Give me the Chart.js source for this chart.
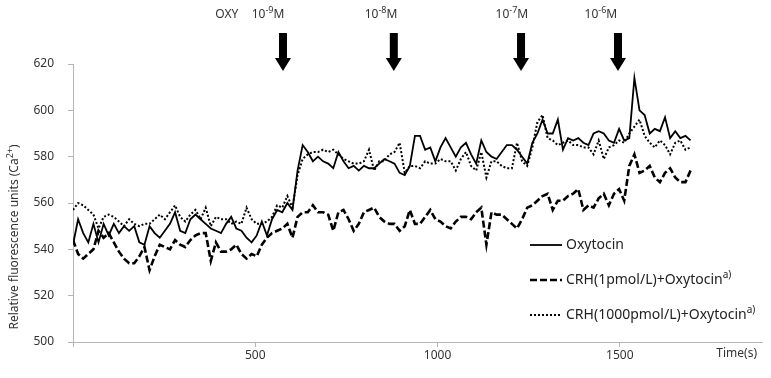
<!DOCTYPE html>
<html>
<head>
<meta charset="utf-8">
<script src="https://cdn.jsdelivr.net/npm/chart.js@4.4.0/dist/chart.umd.min.js"></script>
<style>
  html, body { margin: 0; padding: 0; background: #fff; }
  #wrap { width: 771px; height: 378px; }
</style>
</head>
<body>
<div id="wrap"><canvas id="fluoChart" width="771" height="378"></canvas></div>
<script>
// sampling times (s)
const times = [
  0, 14, 28, 42, 56, 70, 84, 98, 112, 126, 140, 154, 168, 182, 196, 210, 224, 238, 252, 266,
  280, 294, 308, 322, 336, 350, 364, 378, 392, 406, 420, 434, 448, 462, 476, 490, 504, 518, 532, 546,
  560, 574, 588, 602, 616, 630, 644, 658, 672, 686, 700, 714, 728, 742, 756, 770, 784, 798, 812, 826,
  840, 854, 868, 882, 896, 910, 924, 938, 952, 966, 980, 994, 1008, 1022, 1036, 1050, 1064, 1078, 1092, 1106,
  1120, 1134, 1148, 1162, 1176, 1190, 1204, 1218, 1232, 1246, 1260, 1274, 1288, 1302, 1316, 1330, 1344, 1358, 1372, 1386,
  1400, 1414, 1428, 1442, 1456, 1470, 1484, 1498, 1512, 1526, 1540, 1554, 1568, 1582, 1596, 1610, 1624, 1638, 1652, 1666,
  1680, 1694
];

const oxytocin = [
  542, 553, 547, 543, 551, 543, 551, 546, 551, 547,
  550, 548, 550, 543, 542, 550, 547, 545, 548, 551,
  556, 548, 547, 553, 555, 553, 551, 549, 548, 547,
  551, 554, 549, 548, 545, 543, 546, 552, 546, 553,
  557, 556, 560, 557, 574, 585, 582, 578, 580, 578,
  577, 575, 582, 578, 575, 576, 574, 576, 575, 575,
  577, 579, 578, 577, 573, 572, 576, 589, 589, 583,
  584, 578, 584, 588, 584, 580, 584, 586, 581, 577,
  587, 582, 580, 579, 582, 585, 585, 583, 580, 577,
  586, 590, 596, 590, 590, 596, 583, 588, 587, 588,
  586, 585, 590, 591, 590, 587, 586, 592, 587, 588,
  614, 600, 598, 590, 592, 591, 597, 588, 591, 588,
  589, 587
];

const crh1 = [
  544, 538, 536, 538, 540, 548, 545, 547, 543, 539,
  536, 534, 534, 537, 541, 531, 537, 542, 541, 540,
  544, 542, 541, 544, 546, 547, 547, 535, 543, 539,
  539, 540, 542, 538, 536, 538, 537, 542, 545, 547,
  548, 549, 551, 545, 554, 556, 556, 559, 556, 556,
  555, 548, 556, 557, 553, 548, 551, 556, 557, 558,
  554, 552, 551, 551, 548, 550, 557, 551, 551, 554,
  557, 553, 552, 550, 549, 552, 554, 554, 553, 556,
  558, 542, 556, 555, 555, 553, 551, 549, 553, 558,
  559, 561, 563, 564, 557, 561, 561, 563, 564, 566,
  557, 559, 558, 562, 564, 559, 564, 566, 561, 576,
  581, 573, 574, 576, 571, 569, 573, 575, 571, 569,
  569, 574
];

const crh1000 = [
  557, 560, 559, 557, 555, 549, 554, 555, 554, 552,
  550, 553, 551, 550, 551, 551, 553, 555, 553, 556,
  559, 554, 552, 555, 557, 553, 558, 550, 554, 553,
  553, 551, 552, 551, 558, 553, 551, 551, 552, 554,
  559, 558, 563, 558, 572, 579, 581, 582, 582, 583,
  582, 583, 581, 579, 578, 577, 577, 578, 583, 574,
  578, 578, 581, 582, 586, 573, 576, 576, 575, 578,
  577, 577, 579, 578, 578, 574, 579, 582, 576, 574,
  582, 571, 578, 578, 576, 575, 575, 586, 578, 576,
  584, 595, 598, 588, 587, 585, 586, 587, 585, 585,
  584, 584, 581, 587, 579, 584, 585, 587, 586, 590,
  593, 596, 589, 586, 584, 587, 585, 581, 586, 587,
  583, 584
];

const seriesNames = ['Oxytocin', 'CRH(1pmol/L)+Oxytocin', 'CRH(1000pmol/L)+Oxytocin'];
const xTickValues = [0, 500, 1000, 1500];

// dose additions (arrows) and their labels
const doseTimes = [576, 880, 1229, 1495];
const doseLabelTimes = [535, 845, 1204, 1448];
const doseExponents = ['-9', '-8', '-7', '-6'];
const oxyLabelTime = 422;

const FONT = '"Noto Sans", sans-serif';
const TEXT = '#333';

function toPoints(vals) {
  return vals.map((v, i) => ({ x: times[i], y: v }));
}

// draw text with optional superscript parts: [[text, isSup], ...]
function richText(ctx, parts, x, y, align, size) {
  const sup = Math.round(size * 0.72);
  let w = 0;
  parts.forEach(p => {
    ctx.font = (p[1] ? sup : size) + 'px ' + FONT;
    w += ctx.measureText(p[0]).width;
  });
  let cx = align === 'center' ? x - w / 2 : (align === 'right' ? x - w : x);
  ctx.textAlign = 'left';
  ctx.textBaseline = 'middle';
  parts.forEach(p => {
    ctx.font = (p[1] ? sup : size) + 'px ' + FONT;
    ctx.fillText(p[0], cx, p[1] ? y - size * 0.38 : y);
    cx += ctx.measureText(p[0]).width;
  });
}

const extras = {
  id: 'extras',
  afterDraw(chart) {
    const ctx = chart.ctx;
    const xs = chart.scales.x;
    ctx.save();
    ctx.fillStyle = '#000';

    // arrows
    doseTimes.forEach(t => {
      const cx = xs.getPixelForValue(t);
      ctx.fillRect(cx - 4, 33, 8, 26);
      ctx.beginPath();
      ctx.moveTo(cx - 8, 58);
      ctx.lineTo(cx + 8, 58);
      ctx.lineTo(cx, 71);
      ctx.closePath();
      ctx.fill();
    });

    // dose labels
    ctx.fillStyle = TEXT;
    richText(ctx, [['OXY', false]], xs.getPixelForValue(oxyLabelTime), 15, 'center', 12);
    doseLabelTimes.forEach((t, i) => {
      richText(ctx, [['10', false], [doseExponents[i], true], ['M', false]],
        xs.getPixelForValue(t), 15, 'center', 12);
    });

    // y title
    ctx.save();
    ctx.translate(15, 237);
    ctx.rotate(-Math.PI / 2);
    richText(ctx, [['Relative fluorescence units (Ca', false], ['2+', true], [')', false]], 0, 0, 'center', 12);
    ctx.restore();

    // x unit
    richText(ctx, [['Time(s)', false]], 757, 354, 'right', 12);

    // legend
    const legY = [245, 280, 315];
    chart.data.datasets.forEach((ds, i) => {
      ctx.save();
      ctx.strokeStyle = '#000';
      ctx.lineWidth = ds.borderWidth;
      ctx.setLineDash(ds.borderDash || []);
      ctx.beginPath();
      ctx.moveTo(530, legY[i]);
      ctx.lineTo(562, legY[i]);
      ctx.stroke();
      ctx.restore();
      ctx.fillStyle = '#222';
      const parts = [[seriesNames[i], false]];
      if (i > 0) parts.push(['a)', true]);
      richText(ctx, parts, 566, legY[i], 'left', 14);
    });
    ctx.restore();
  }
};

new Chart(document.getElementById('fluoChart').getContext('2d'), {
  type: 'line',
  data: {
    datasets: [
      { label: seriesNames[0], data: toPoints(oxytocin), borderColor: '#000', borderWidth: 1.8, pointRadius: 0, tension: 0 },
      { label: seriesNames[1], data: toPoints(crh1), borderColor: '#000', borderWidth: 2.6, borderDash: [7, 3], pointRadius: 0, tension: 0 },
      { label: seriesNames[2], data: toPoints(crh1000), borderColor: '#000', borderWidth: 2, borderDash: [2, 2], pointRadius: 0, tension: 0 }
    ]
  },
  options: {
    responsive: false,
    animation: false,
    devicePixelRatio: 1,
    layout: { padding: { top: 64, right: 9, bottom: 0, left: 0 } },
    plugins: { legend: { display: false }, tooltip: { enabled: false } },
    scales: {
      x: {
        type: 'linear',
        min: 0,
        max: 1890,
        afterBuildTicks: s => { s.ticks = xTickValues.map(v => ({ value: v })); },
        afterFit: s => { s.height = 36; },
        grid: { drawOnChartArea: false, tickLength: 5, color: '#b5b5b5' },
        border: { color: '#b5b5b5' },
        ticks: { padding: 1, color: TEXT, font: { family: FONT, size: 12 }, callback: v => (v === 0 ? '' : v), maxRotation: 0 }
      },
      y: {
        min: 500,
        max: 620,
        afterFit: s => { s.width = 73; },
        grid: { drawOnChartArea: false, tickLength: 5, color: '#b5b5b5' },
        border: { color: '#b5b5b5' },
        ticks: { stepSize: 20, padding: 14, color: TEXT, font: { family: FONT, size: 12 } }
      }
    }
  },
  plugins: [extras]
});
</script>
</body>
</html>
